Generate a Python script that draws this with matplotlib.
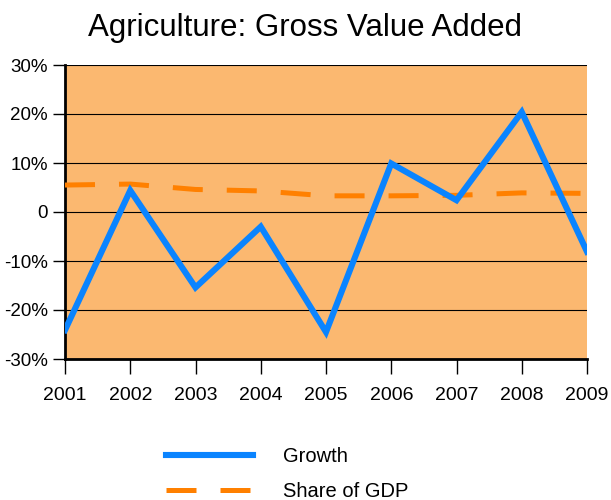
import matplotlib
matplotlib.use("Agg")
import matplotlib.pyplot as plt

years = ["2001", "2002", "2003", "2004", "2005", "2006", "2007", "2008", "2009"]
growth = [-24.1, 4.4, -15.4, -3.0, -24.5, 9.9, 2.4, 20.4, -8.1]
share = [5.5, 5.7, 4.6, 4.3, 3.3, 3.3, 3.4, 3.9, 3.8]
yticks = [-30, -20, -10, 0, 10, 20, 30]
ylabels = ["-30%", "-20%", "-10%", "0", "10%", "20%", "30%"]

plt.rcParams['font.family'] = ['Liberation Sans', 'DejaVu Sans']

fig = plt.figure(figsize=(6.11, 5.0), dpi=100)
ax = fig.add_axes([65/611, 1-359/500, (587-65)/611, (359-65)/500])
ax.set_facecolor('#FBB870')

x = list(range(len(years)))
ax.plot(x, share, color='#FF8000', lw=3.6, dashes=(6, 4.8), label='Share of GDP', zorder=3)
ax.plot(x, growth, color='#0A84FF', lw=4.4, label='Growth', zorder=4, solid_joinstyle='miter')

ax.set_xlim(0, len(years)-1)
ax.set_ylim(-30, 30)
ax.set_yticks(yticks)
ax.set_yticklabels(ylabels)
ax.set_xticks(x)
ax.set_xticklabels(years)
ax.yaxis.grid(True, color='black', lw=0.8)
ax.set_axisbelow(True)
for s in ['top', 'right']:
    ax.spines[s].set_visible(False)
ax.spines['left'].set_linewidth(2)
ax.spines['bottom'].set_linewidth(2)
ax.tick_params(axis='y', length=8.5, width=1, labelsize=13.5, pad=4)
ax.tick_params(axis='x', length=11, width=1, labelsize=14, pad=9)

fig.text(0.5, 1-28/500, "Agriculture: Gross Value Added", ha='center', va='center', fontsize=22.5)

handles, labels = ax.get_legend_handles_labels()
leg = fig.legend([handles[1], handles[0]], [labels[1], labels[0]],
                 loc='center left', bbox_to_anchor=(148/611, 1-474/500),
                 frameon=False, fontsize=14.5, handlelength=4.3,
                 handletextpad=1.5, labelspacing=0.8)

fig.savefig("out.png", dpi=100)
